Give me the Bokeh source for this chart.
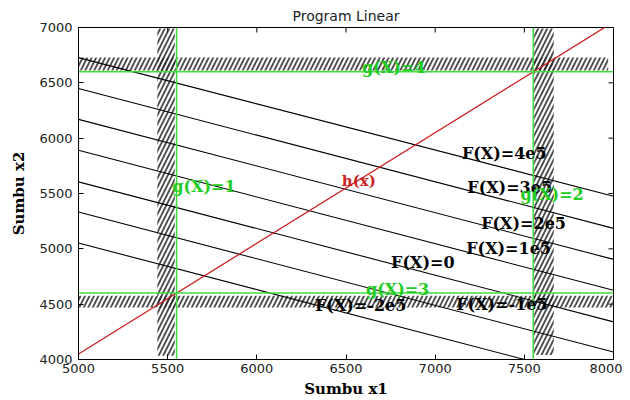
import math
from bokeh.plotting import figure
from bokeh.models import Range1d, FixedTicker, ColumnDataSource
from bokeh.embed import file_html
from bokeh.resources import INLINE
from bokeh.core.properties import value

# ---------------- data ----------------
title_text = "Program Linear"
x_label = "Sumbu x1"
y_label = "Sumbu x2"
x_ticks = [5000, 5500, 6000, 6500, 7000, 7500, 8000]
y_ticks = [4000, 4500, 5000, 5500, 6000, 6500, 7000]

# objective lines F(X)=c, given by their x2 value at x1=5000 and x1=8000
f_levels = ["4e5", "3e5", "2e5", "1e5", "0", "-1e5", "-2e5"]
f_x_ends = [5000, 8000]
f_y_at_5000 = [6728, 6448, 6170, 5890, 5605, 5332, 5052]
f_y_at_8000 = [5475, 5185, 4905, 4625, 4340, 4067, 3790]

# line h(x)
h_x = [5000, 8000]
h_y = [4050, 7050]

# constraint lines g(X)
g_vertical = [5550, 7550]      # g(X)=1, g(X)=2
g_horizontal = [4600, 6600]    # g(X)=3, g(X)=4

# hatched (infeasible side) bands
hatch_left = [5442, 7555, 5000, 5000]
hatch_right = [5540, 7665, 7995, 7970]
hatch_bottom = [4035, 4040, 4470, 6612]
hatch_top = [6990, 6990, 4575, 6728]

# annotation texts
lbl_text = ["F(X)=4e5", "F(X)=3e5", "F(X)=2e5", "F(X)=1e5", "F(X)=0",
            "F(X)=-2e5", "F(X)=-1e5"]
lbl_x = [7150, 7180, 7258, 7174, 6753, 6326, 7118]
lbl_y = [5859, 5557, 5232, 5004, 4880, 4489, 4498]

g_text = ["g(X)=1", "g(X)=2", "g(X)=3", "g(X)=4"]
g_x = [5526, 7478, 6612, 6590]
g_y = [5566, 5489, 4630, 6641]

h_text = ["h(x)"]
h_lx = [6476]
h_ly = [5609]

# ---------------- figure ----------------
GREEN = "#3fdc3f"
RED = "#cc2020"
X0, X1, Y0, Y1 = 5000, 8000, 4000, 7000

p = figure(width=622, height=400, output_backend="svg", toolbar_location=None,
           x_range=Range1d(X0, X1), y_range=Range1d(Y0, Y1),
           min_border_left=78, min_border_right=9, min_border_top=27,
           min_border_bottom=41)
p.title.text = title_text
p.title.align = "center"
p.title.text_font = "DejaVu Sans"
p.title.text_font_size = "14px"
p.title.text_font_style = "normal"
p.title.text_color = "#222222"
p.title.standoff = 7
p.xgrid.visible = False
p.ygrid.visible = False
p.outline_line_color = "black"
p.outline_line_alpha = 1
p.background_fill_color = "white"
p.border_fill_color = "white"

p.xaxis.ticker = FixedTicker(ticks=x_ticks)
p.yaxis.ticker = FixedTicker(ticks=y_ticks)

for ax in list(p.xaxis) + list(p.yaxis):
    ax.major_tick_in = 5
    ax.major_tick_out = 0
    ax.minor_tick_in = 0
    ax.minor_tick_out = 0
    ax.major_tick_line_color = "black"
    ax.axis_line_color = "black"
    ax.major_label_text_font = "DejaVu Sans"
    ax.major_label_text_font_size = "13px"
    ax.major_label_text_color = "#222222"
    ax.axis_label_text_font = "DejaVu Serif"
    ax.axis_label_text_font_style = "bold"
    ax.axis_label_text_font_size = "15px"
    ax.axis_label_text_color = "black"

p.xaxis.axis_label = x_label
p.yaxis.axis_label = y_label
p.xaxis.major_label_standoff = 4
p.xaxis.axis_label_standoff = 4
p.yaxis.major_label_standoff = 6
p.yaxis.axis_label_standoff = 8

# inward ticks on the top and right edges of the box
p.ray(x=x_ticks, y=[Y1] * len(x_ticks), length=5, length_units="screen",
      angle=-math.pi / 2, line_color="black", line_width=1)
p.ray(x=[X1] * len(y_ticks), y=y_ticks, length=5, length_units="screen",
      angle=math.pi, line_color="black", line_width=1)

# hatched bands
p.quad(left=hatch_left, right=hatch_right, bottom=hatch_bottom, top=hatch_top,
       fill_color=None, line_color=None, hatch_pattern="/", hatch_color="#2a2a2a",
       hatch_scale=9, hatch_weight=1.8, hatch_alpha=0.85)

# F(X) lines
f_src = ColumnDataSource(dict(
    xs=[list(f_x_ends) for _ in f_levels],
    ys=[[a, b] for a, b in zip(f_y_at_5000, f_y_at_8000)]))
p.multi_line(xs="xs", ys="ys", source=f_src, line_color="black", line_width=1.1)

# h(x)
p.line(h_x, h_y, line_color=RED, line_width=1.3)

# g lines
for gx in g_vertical:
    p.line([gx, gx], [Y0, Y1], line_color=GREEN, line_width=1.5)
for gy in g_horizontal:
    p.line([X0, X1], [gy, gy], line_color=GREEN, line_width=1.5)

# texts
p.text(x=lbl_x, y=lbl_y, text=lbl_text, text_color="black",
       text_font=value("DejaVu Serif"), text_font_style="bold",
       text_font_size="16px", text_align="left", text_baseline="middle")
p.text(x=g_x, y=g_y, text=g_text, text_color="#22cc22",
       text_font=value("DejaVu Serif"), text_font_style="bold",
       text_font_size="16px", text_align="left", text_baseline="middle")
p.text(x=h_lx, y=h_ly, text=h_text, text_color=RED,
       text_font=value("DejaVu Serif"), text_font_style="bold",
       text_font_size="15px", text_align="left", text_baseline="middle")

open("out.html", "w").write(file_html(p, INLINE))
